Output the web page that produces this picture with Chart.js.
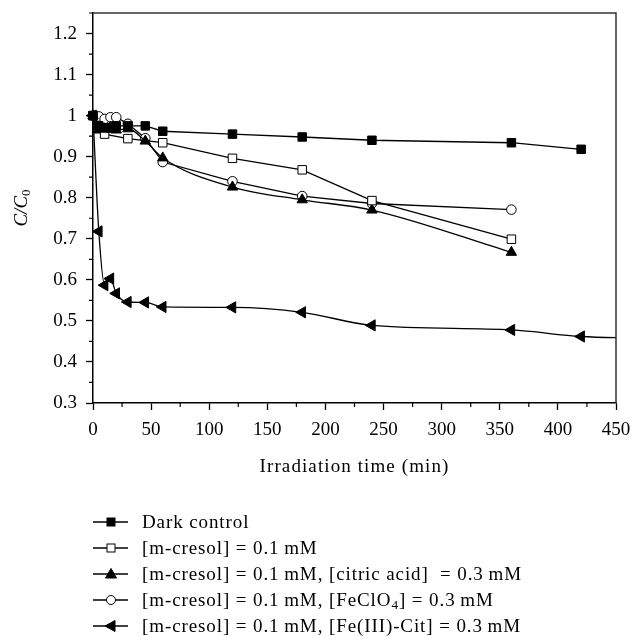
<!DOCTYPE html>
<html>
<head>
<meta charset="utf-8">
<script src="https://cdn.jsdelivr.net/npm/chart.js@4/dist/chart.umd.min.js"></script>
<style>
  html,body{margin:0;padding:0;background:#fff;}
  #wrap{position:relative;width:632px;height:636px;}
  #chart{position:absolute;left:0;top:0;}
  #legend{position:absolute;left:0;top:509px;width:632px;font:19px "Liberation Serif",serif;color:#000;letter-spacing:0.9px;}
  .row{position:relative;height:26px;line-height:26px;white-space:pre;}
  .row svg{position:absolute;left:93px;top:0;}
  .row span{position:absolute;left:142px;top:0;}
  sub{font-size:70%;line-height:0;vertical-align:-0.2em;}
</style>
</head>
<body>
<div id="wrap">
  <canvas id="chart" width="632" height="636"></canvas>
  <div id="legend"></div>
</div>
<script>
// ---- data (C/C0 vs irradiation time, min)
const timeDark   = [0, 5, 10, 15, 20, 30, 45, 60, 120, 180, 240, 360, 420];
const darkCtrl   = [1, 0.975, 0.97, 0.97, 0.975, 0.975, 0.975, 0.962, 0.955, 0.948, 0.94, 0.934, 0.918];

const timeCres   = [0, 10, 30, 60, 120, 180, 240, 360];
const cresol     = [1, 0.955, 0.944, 0.934, 0.896, 0.868, 0.793, 0.699];

const timeCitric = [0, 5, 10, 15, 20, 30, 45, 60, 120, 180, 240, 360];
const citric     = [1, 0.965, 0.968, 0.972, 0.965, 0.968, 0.938, 0.897, 0.826, 0.795, 0.77, 0.667];

const timeFeClO4 = [0, 5, 10, 15, 20, 30, 45, 60, 120, 180, 240, 360];
const feclo4     = [1, 0.998, 0.992, 0.996, 0.996, 0.98, 0.945, 0.887, 0.84, 0.804, 0.786, 0.771];

const timeFeCit  = [0, 5, 10, 15, 20, 30, 45, 60, 120, 180, 240, 360, 420, 480];
const feCit      = [1, 0.718, 0.587, 0.603, 0.567, 0.546, 0.545, 0.534, 0.533, 0.521, 0.489, 0.478, 0.462, 0.458];

const xTicks = [0, 50, 100, 150, 200, 250, 300, 350, 400, 450];
const yTicks = [0.3, 0.4, 0.5, 0.6, 0.7, 0.8, 0.9, 1, 1.1, 1.2];

const legendLabels = [
  'Dark control',
  '[m-cresol] = 0.1\u2009mM',
  '[m-cresol] = 0.1\u2009mM, [citric acid]  = 0.3\u2009mM',
  '[m-cresol] = 0.1\u2009mM, [FeClO<sub>4</sub>] = 0.3\u2009mM',
  '[m-cresol] = 0.1\u2009mM, [Fe(III)-Cit] = 0.3\u2009mM'
];

const FONT = '"Liberation Serif", "Times New Roman", serif';
const pts = (xs, ys) => xs.map((x, i) => ({ x, y: ys[i] }));

const base = {
  showLine: true, borderColor: '#000', borderWidth: 1.3,
  pointBorderColor: '#000', pointBorderWidth: 1, pointHoverRadius: 6, clip: false
};

const datasets = [
  { ...base, label: legendLabels[0], data: pts(timeDark, darkCtrl),
    pointStyle: 'rect', pointRadius: 6, pointBackgroundColor: '#000' },
  { ...base, label: legendLabels[1], data: pts(timeCres, cresol),
    pointStyle: 'rect', pointRadius: 6, pointBackgroundColor: '#fff' },
  { ...base, label: legendLabels[2], data: pts(timeCitric, citric), cubicInterpolationMode: 'monotone',
    pointStyle: 'triangle', pointRadius: 6, pointBackgroundColor: '#000' },
  { ...base, label: legendLabels[3], data: pts(timeFeClO4, feclo4),
    pointStyle: 'circle', pointRadius: 4.8, pointBackgroundColor: '#fff' },
  { ...base, label: legendLabels[4], data: pts(timeFeCit, feCit), cubicInterpolationMode: 'monotone',
    pointStyle: 'triangle', pointRotation: -90, pointRadius: 6.5, pointBackgroundColor: '#000',
    clip: { left: 12, top: 12, right: 0, bottom: 12 } }
];

// minor ticks + box frame + axis titles
const extras = {
  id: 'extras',
  afterDraw(chart) {
    const { ctx, chartArea: a, scales: { x, y } } = chart;
    ctx.save();
    ctx.strokeStyle = '#000';
    ctx.lineWidth = 1.2;
    ctx.beginPath();
    for (let i = 0; i < xTicks.length - 1; i++) {
      const px = x.getPixelForValue((xTicks[i] + xTicks[i + 1]) / 2);
      ctx.moveTo(px, a.bottom); ctx.lineTo(px, a.bottom + 4);
    }
    for (let i = 0; i < yTicks.length; i++) {
      const py = y.getPixelForValue(yTicks[i] + 0.05);
      if (py < a.top) continue;
      ctx.moveTo(a.left, py); ctx.lineTo(a.left - 4, py);
    }
    ctx.stroke();

    ctx.strokeStyle = '#333';
    ctx.lineWidth = 1.5;
    ctx.beginPath();
    ctx.moveTo(a.left, a.top); ctx.lineTo(a.right, a.top); ctx.lineTo(a.right, a.bottom);
    ctx.stroke();

    ctx.fillStyle = '#000';
    ctx.textAlign = 'center';
    ctx.textBaseline = 'middle';
    ctx.font = '19px ' + FONT;
    ctx.letterSpacing = '1.1px';
    ctx.fillText('Irradiation time (min)', (a.left + a.right) / 2, a.bottom + 64);
    ctx.letterSpacing = '0px';

    ctx.translate(22, (a.top + a.bottom) / 2);
    ctx.rotate(-Math.PI / 2);
    ctx.textAlign = 'left';
    ctx.font = 'italic 19px ' + FONT;
    const main = 'C/C';
    const w1 = ctx.measureText(main).width;
    ctx.font = '13px ' + FONT;
    const w2 = ctx.measureText('0').width;
    const x0 = -(w1 + w2) / 2;
    ctx.font = 'italic 19px ' + FONT;
    ctx.fillText(main, x0, 0);
    ctx.font = '13px ' + FONT;
    ctx.fillText('0', x0 + w1, 5);
    ctx.restore();
  }
};

new Chart(document.getElementById('chart').getContext('2d'), {
  type: 'scatter',
  data: { datasets },
  options: {
    responsive: false,
    animation: false,
    layout: { padding: { left: 0, top: 13, right: 16, bottom: 173 } },
    plugins: { legend: { display: false }, tooltip: { enabled: false } },
    scales: {
      x: {
        type: 'linear', min: 0, max: 450,
        afterBuildTicks: s => { s.ticks = xTicks.map(v => ({ value: v })); },
        afterFit: s => { s.height = 60; s.paddingLeft = 0; s.paddingRight = 0; },
        ticks: { color: '#000', padding: 9, maxRotation: 0, font: { family: FONT, size: 19 } },
        grid: { drawOnChartArea: false, tickLength: 7, tickColor: '#000', tickWidth: 1.3 },
        border: { color: '#000', width: 1.5 }
      },
      y: {
        type: 'linear', min: 0.3, max: 1.25,
        afterBuildTicks: s => { s.ticks = yTicks.map(v => ({ value: v })); },
        afterFit: s => { s.width = 93; s.paddingTop = 0; s.paddingBottom = 0; },
        ticks: { color: '#000', padding: 9, font: { family: FONT, size: 19 },
          callback: v => String(+(+v).toFixed(2)) },
        grid: { drawOnChartArea: false, tickLength: 7, tickColor: '#000', tickWidth: 1.3 },
        border: { color: '#000', width: 1.5 }
      }
    }
  },
  plugins: [extras]
});

// ---- legend (html, line + marker icons)
const icons = [
  '<rect x="14" y="9" width="8" height="8" fill="#000" stroke="#000"/>',
  '<rect x="14" y="9" width="8" height="8" fill="#fff" stroke="#000"/>',
  '<polygon points="18,7.5 23.5,17 12.5,17" fill="#000" stroke="#000"/>',
  '<circle cx="18" cy="13" r="4.5" fill="#fff" stroke="#000"/>',
  '<polygon points="12,13 22,7.5 22,18.5" fill="#000" stroke="#000"/>'
];
const lg = document.getElementById('legend');
legendLabels.forEach((t, i) => {
  const row = document.createElement('div');
  row.className = 'row';
  row.innerHTML = `<svg width="36" height="26"><line x1="0" y1="13" x2="35" y2="13" stroke="#000" stroke-width="1.3"/>${icons[i]}</svg><span>${t}</span>`;
  lg.appendChild(row);
});
</script>
</body>
</html>
